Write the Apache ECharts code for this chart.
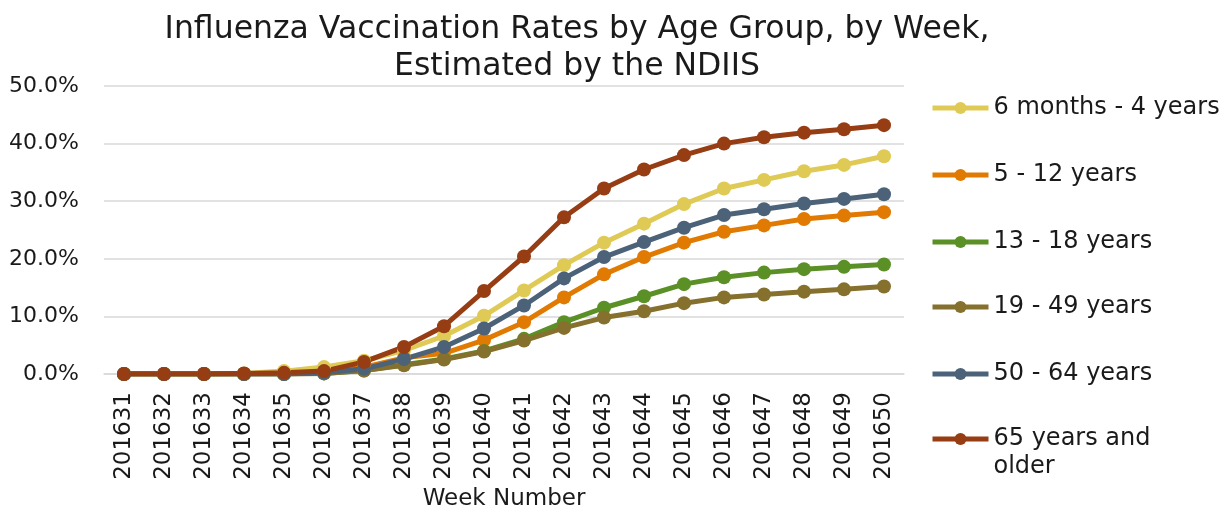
<!DOCTYPE html>
<html>
<head>
<meta charset="utf-8">
<script src="https://cdn.jsdelivr.net/npm/echarts@6/dist/echarts.min.js"></script>
<style>
  html, body { margin: 0; padding: 0; background: #fff; }
  #chart { width: 1231px; height: 510px; }
</style>
</head>
<body>
<div id="chart"></div>
<script>
  // weeks 201631 .. 201650
  var weeks = ['201631', '201632', '201633', '201634', '201635', '201636', '201637', '201638', '201639', '201640',
    '201641', '201642', '201643', '201644', '201645', '201646', '201647', '201648', '201649', '201650']

  var groupNames = ['6 months - 4 years', '5 - 12 years', '13 - 18 years', '19 - 49 years', '50 - 64 years', '65 years and older']
  var groupColors = ['#DFCA56', '#E07A02', '#5B9026', '#86702D', '#4B6279', '#973D14']

  var rate6m4y = [0, 0, 0, 0.1, 0.5, 1.2, 2.3, 4.1, 6.6, 10.1, 14.5, 18.9, 22.8, 26.1, 29.5, 32.2, 33.7, 35.2, 36.3, 37.8]
  var rate5to12 = [0, 0, 0, 0, 0.1, 0.3, 1.2, 2.8, 3.6, 5.9, 9.0, 13.3, 17.3, 20.3, 22.8, 24.7, 25.8, 26.9, 27.5, 28.1]
  var rate13to18 = [0, 0, 0, 0, 0, 0.1, 0.6, 1.6, 2.6, 4.0, 6.1, 9.0, 11.5, 13.5, 15.6, 16.8, 17.6, 18.2, 18.6, 19.0]
  var rate19to49 = [0, 0, 0, 0, 0, 0.1, 0.6, 1.5, 2.5, 3.9, 5.8, 8.0, 9.8, 10.9, 12.3, 13.3, 13.8, 14.3, 14.7, 15.2]
  var rate50to64 = [0, 0, 0, 0, 0, 0.2, 0.9, 2.6, 4.7, 7.9, 11.9, 16.6, 20.3, 22.9, 25.4, 27.6, 28.6, 29.6, 30.4, 31.2]
  var rate65plus = [0, 0, 0, 0.1, 0.2, 0.5, 2.1, 4.7, 8.3, 14.4, 20.4, 27.2, 32.2, 35.5, 38.0, 40.0, 41.1, 41.9, 42.5, 43.2]

  var yTicks = [0, 10, 20, 30, 40, 50]

  var allRates = [rate6m4y, rate5to12, rate13to18, rate19to49, rate50to64, rate65plus]
  var legendTops = [89, 156, 223, 288, 355, 392]

  var font = 'DejaVu Sans'
  var chart = echarts.init(document.getElementById('chart'))

  var series = []
  var legends = []
  for (var i = 0; i < groupNames.length; i++) {
    series.push({
      name: groupNames[i],
      type: 'line',
      data: allRates[i],
      symbol: 'circle',
      symbolSize: 14,
      lineStyle: { width: 5, color: groupColors[i] },
      itemStyle: { color: groupColors[i] },
      emphasis: { disabled: true },
      animation: false
    })
    legends.push({
      orient: 'vertical',
      left: 925,
      top: legendTops[i],
      itemWidth: 56,
      itemHeight: 15,
      itemGap: 0,
      selectedMode: false,
      data: [groupNames[i]],
      lineStyle: { width: 5 },
      formatter: function(name) {
        // the last name wraps, with the icon on its first line as in Excel
        return name === '65 years and older' ? '\n65 years and\nolder' : name
      },
      textStyle: { fontFamily: font, fontSize: 24, color: '#1a1a1a', lineHeight: 28 }
    })
  }

  var option = {
    backgroundColor: '#fff',
    animation: false,
    title: {
      text: 'Influenza Vaccination Rates by Age Group, by Week,\nEstimated by the NDIIS',
      left: 572,
      top: 6,
      textAlign: 'center',
      textStyle: {
        fontFamily: font,
        fontSize: 31.5,
        fontWeight: 'normal',
        color: '#1a1a1a',
        lineHeight: 37
      }
    },
    legend: legends,
    grid: {
      left: 104,
      right: 327,
      top: 86,
      bottom: 136,
      outerBoundsMode: 'none'
    },
    xAxis: {
      type: 'category',
      data: weeks,
      name: 'Week Number',
      nameLocation: 'middle',
      nameGap: 112,
      nameTextStyle: { fontFamily: font, fontSize: 23, color: '#1a1a1a' },
      axisLine: { lineStyle: { color: '#d9d9d9', width: 1.5 } },
      axisTick: { show: false },
      axisLabel: {
        interval: 0,
        rotate: 90,
        margin: 18,
        fontFamily: font,
        fontSize: 23,
        color: '#1a1a1a'
      }
    },
    yAxis: {
      type: 'value',
      min: yTicks[0],
      max: yTicks[yTicks.length - 1],
      interval: 10,
      axisLine: { show: false },
      axisTick: { show: false },
      splitLine: { lineStyle: { color: '#d9d9d9', width: 1.5 } },
      axisLabel: {
        margin: 25,
        fontFamily: font,
        fontSize: 22,
        color: '#1a1a1a',
        formatter: function(v) {
          return v.toFixed(1) + '%'
        }
      }
    },
    series: series
  }
  chart.setOption(option)
</script>
</body>
</html>
